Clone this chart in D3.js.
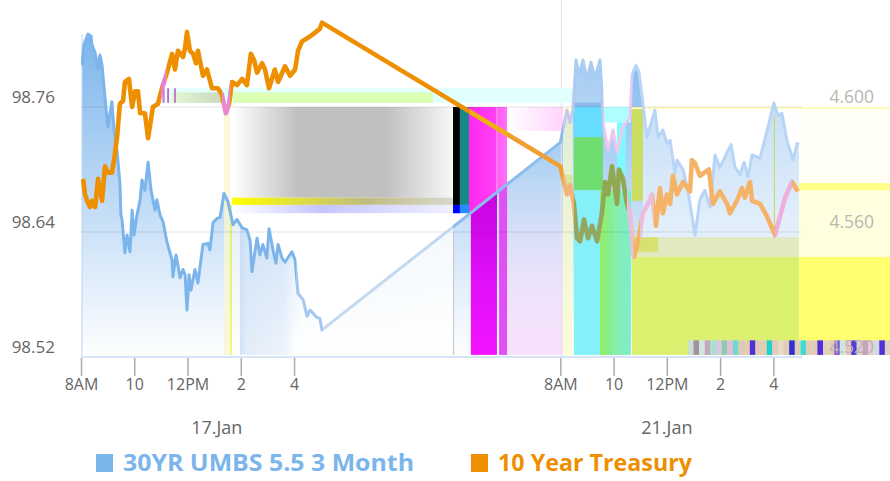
<!DOCTYPE html>
<html>
<head>
<meta charset="utf-8">
<script src="https://cdn.jsdelivr.net/npm/d3@7"></script>
<style>
html, body { margin: 0; padding: 0; background: #fff; }
text { font-family: "Open Sans", sans-serif; }
</style>
</head>
<body>
<svg width="890" height="481"></svg>
<script>
// hours since 8AM on 17.Jan, the 21.Jan session starts at 18
var umbsTimes = [0.04,0.11,0.26,0.38,0.41,0.53,0.64,0.71,0.79,0.90,1.01,1.16,1.24,1.35,1.46,1.50,1.54,1.65,1.73,1.84,1.92,1.99,2.10,2.22,2.29,2.40,2.52,2.63,2.78,2.85,2.97,3.08,3.23,3.42,3.45,3.57,3.72,3.83,3.91,3.98,4.06,4.13,4.28,4.39,4.58,4.77,4.84,4.96,5.11,5.22,5.37,5.52,5.63,5.71,5.86,6.05,6.23,6.35,6.42,6.61,6.72,6.83,6.98,7.06,7.21,7.32,7.40,7.55,7.66,7.92,8.04,8.15,8.34,8.49,8.60,8.86,8.97,9.05,
	18.00,18.25,18.36,18.47,18.59,18.70,18.85,19.00,19.15,19.30,19.49,19.56,19.60,19.79,19.98,20.13,20.35,20.62,20.69,20.84,20.95,21.07,21.25,21.55,21.67,21.85,22.00,22.12,22.30,22.38,22.61,22.79,23.06,23.24,23.43,23.62,23.81,23.99,24.22,24.41,24.56,24.75,24.90,25.05,25.20,25.50,25.80,26.02,26.17,26.32,26.51,26.74,26.89,26.96];
var umbsValues = [98.800,98.820,98.830,98.828,98.820,98.812,98.796,98.810,98.800,98.769,98.741,98.765,98.738,98.719,98.687,98.656,98.652,98.620,98.637,98.621,98.661,98.637,98.656,98.671,98.690,98.680,98.707,98.680,98.661,98.671,98.656,98.650,98.630,98.613,98.597,98.618,98.596,98.604,98.599,98.565,98.599,98.584,98.604,98.591,98.628,98.629,98.623,98.649,98.653,98.654,98.677,98.669,98.656,98.647,98.652,98.644,98.642,98.632,98.602,98.634,98.618,98.628,98.615,98.643,98.623,98.610,98.628,98.615,98.611,98.621,98.613,98.581,98.575,98.559,98.565,98.558,98.557,98.546,
	98.726,98.757,98.745,98.757,98.805,98.791,98.805,98.786,98.803,98.788,98.805,98.776,98.745,98.719,98.738,98.716,98.741,98.750,98.791,98.800,98.794,98.770,98.731,98.757,98.731,98.738,98.725,98.728,98.697,98.709,98.700,98.680,98.637,98.671,98.680,98.664,98.714,98.702,98.714,98.724,98.702,98.695,98.707,98.693,98.714,98.711,98.741,98.764,98.752,98.754,98.728,98.709,98.725,98.724];
var treasuryTimes = [0.08,0.15,0.23,0.34,0.41,0.53,0.64,0.79,0.90,1.01,1.16,1.24,1.35,1.46,1.58,1.65,1.80,1.92,2.03,2.14,2.22,2.40,2.52,2.70,2.89,3.04,3.23,3.42,3.53,3.64,3.83,3.91,3.98,4.09,4.21,4.32,4.39,4.58,4.73,4.92,5.14,5.29,5.44,5.56,5.67,5.86,6.05,6.23,6.38,6.50,6.61,6.80,6.91,7.06,7.28,7.40,7.66,7.85,8.04,8.15,8.30,8.49,8.67,8.97,9.05,
	18.00,18.25,18.36,18.51,18.63,18.74,18.89,19.04,19.19,19.38,19.56,19.68,19.79,19.94,20.13,20.20,20.35,20.50,20.62,20.76,20.92,21.10,21.29,21.44,21.59,21.74,21.85,22.00,22.12,22.23,22.38,22.61,22.87,22.94,23.06,23.24,23.58,23.73,23.99,24.26,24.37,24.63,24.82,24.93,25.12,25.20,25.50,25.76,26.06,26.25,26.44,26.70,26.92];
var treasuryValues = [4.577,4.572,4.570,4.568,4.570,4.568,4.577,4.570,4.581,4.579,4.579,4.583,4.590,4.601,4.602,4.608,4.609,4.600,4.605,4.605,4.598,4.598,4.590,4.600,4.601,4.606,4.611,4.617,4.612,4.618,4.616,4.619,4.624,4.618,4.617,4.614,4.618,4.610,4.612,4.606,4.606,4.604,4.598,4.601,4.608,4.607,4.609,4.607,4.617,4.615,4.611,4.614,4.612,4.606,4.612,4.608,4.613,4.610,4.612,4.618,4.621,4.622,4.623,4.625,4.627,
	4.581,4.572,4.575,4.569,4.558,4.557,4.564,4.558,4.562,4.557,4.566,4.576,4.572,4.581,4.569,4.580,4.577,4.569,4.566,4.552,4.557,4.566,4.569,4.572,4.562,4.574,4.566,4.572,4.569,4.578,4.572,4.576,4.573,4.583,4.582,4.578,4.580,4.569,4.573,4.569,4.566,4.570,4.574,4.571,4.576,4.570,4.569,4.565,4.559,4.565,4.571,4.576,4.573];
var hourTicks = [0,2,4,6,8,18,20,22,24,26];
var hourLabels = ["8AM","10","12PM","2","4","8AM","10","12PM","2","4"];
var dayTicks = [5.1,22];
var dayLabels = ["17.Jan","21.Jan"];
var leftTicks = [98.52,98.64,98.76];
var rightTicks = [4.52,4.56,4.60];
var seriesNames = ["30YR UMBS 5.5 3 Month","10 Year Treasury"];
var seriesColors = ["#7cb5ec","#ee8f00"];

var umbs = umbsTimes.map(function(t,i){ return {t:t, v:umbsValues[i]}; });
var treasury = treasuryTimes.map(function(t,i){ return {t:t, v:treasuryValues[i]}; });

var svg = d3.select("svg");
var defs = svg.append("defs");

var x = d3.scaleLinear().domain([0,27]).range([81,800]);
var y = d3.scaleLinear().domain([98.52,98.76]).range([357,107]);
var y2 = d3.scaleLinear().domain([4.52,4.60]).range([357,107]);

function gradient(id, stops, vertical) {
	var g = defs.append("linearGradient").attr("id",id)
		.attr("x1",0).attr("y1",0).attr("x2",vertical?0:1).attr("y2",vertical?1:0);
	stops.forEach(function(s){
		g.append("stop").attr("offset",s[0]).attr("stop-color",s[1])
			.attr("stop-opacity",s[2]===undefined?1:s[2]);
	});
	return "url(#"+id+")";
}
// rectangle given in hours and left axis prices
function band(t0,t1,p0,p1,fill,op,clip) {
	return svg.append("rect")
		.attr("x",x(t0)).attr("width",x(t1)-x(t0))
		.attr("y",y(p1)).attr("height",y(p0)-y(p1))
		.attr("fill",fill).attr("opacity",op===undefined?1:op)
		.attr("clip-path",clip?"url(#"+clip+")":null);
}

//area
var areaFill = gradient("areaFill",[[0,"#7cb5ec"],[1,"#ffffff"]],true);
var area = d3.area().x(function(d){return x(d.t);}).y0(y(98.52)).y1(function(d){return y(d.v);});
defs.append("clipPath").attr("id","underArea").append("path").datum(umbs).attr("d",area);

//magenta block sits behind the area, its lower edge follows the diagonal
band(14.57,16.00,98.658,98.760,gradient("g5",[[0,"#ff28f0"],[0.7,"#ff40f4"],[0.72,"#ff80f0"],[0.78,"#ff60f0"],[1,"#ff70ff"]]));
svg.append("path").datum(umbs).attr("fill",areaFill).attr("d",area);

//left axis line
svg.append("line").attr("x1",x(0)+1).attr("x2",x(0)+1).attr("y1",34).attr("y2",357).attr("stroke","#b8d4f2").attr("stroke-width",1);
//crosshair
svg.append("line").attr("x1",x(18)+1).attr("x2",x(18)+1).attr("y1",0).attr("y2",357).attr("stroke","#e4e4e4").attr("stroke-width",1);

//overlays, first session
band(2.97,13.22,98.764,98.778,"#e2ffff");
band(3.40,5.37,98.764,98.774,gradient("g1",[[0,"#e4f8d4"],[1,"#c8d8c0"]]));
band(5.37,5.70,98.764,98.778,"#e0ffff");
band(5.70,13.22,98.764,98.774,"#dcffb4");
band(3.06,3.14,98.764,98.778,"#e070d0");
band(3.24,3.30,98.764,98.778,"#c050c0");
band(3.50,3.56,98.764,98.778,"#c060c0");
band(13.22,18.51,98.764,98.778,"#e0ffff");
band(5.37,5.60,98.522,98.760,"#f8f8d0",0.8);
band(5.60,5.67,98.522,98.666,"#f2f24a",0.8);
band(5.67,13.97,98.673,98.760,gradient("g2",[[0,"#ffffff"],[0.3,"#c0c0c0"],[0.7,"#c0c0c0"],[1,"#f8f8f8"]]));
band(5.67,13.97,98.666,98.673,gradient("g3",[[0,"#ffff00"],[0.6,"#c0bc80"],[1,"#d8d8d0"]]));
band(5.67,13.97,98.658,98.666,gradient("g4",[[0,"#ffffff"],[0.4,"#c5c5ff"],[1,"#f0f0ff"]]));
band(5.67,5.97,98.522,98.658,"#ffffff",0.55);
band(5.97,8.07,98.522,98.650,gradient("g10",[[0,"#c8dcf4",0.8],[0.12,"#d4e4f6",0.65],[0.8,"#dce8f8",0.5],[1,"#dce8f8",0]]),1,"underArea");
band(7.6,13.97,98.522,98.658,gradient("g8",[[0,"#ffffff",0],[0.12,"#ffffff",0.7],[1,"#ffffff",0.8]]));
band(13.97,14.01,98.522,98.640,"#c8c8c8");
band(13.97,14.23,98.666,98.760,"#000000");
band(14.23,14.57,98.666,98.760,"#158888");
band(13.97,14.23,98.658,98.666,"#0000ff");
band(14.23,14.57,98.658,98.666,"#1e90ff");
band(16.00,18.10,98.737,98.760,gradient("g6",[[0,"#ffffff"],[1,"#ffd4ff"]]));
band(14.64,15.62,98.522,98.700,gradient("g7",[[0,"#c000d8"],[0.6,"#e010f8"],[1,"#f414ff"]],true),1,"underArea");
band(15.70,16.00,98.522,98.700,"#e050f4",1,"underArea");
band(16.00,18.10,98.522,98.700,gradient("g9",[[0,"#f4d4fa",0],[1,"#f6d8fb",0.8]],true),1,"underArea");

//overlays, second session
band(18.10,18.47,98.522,98.760,"#fdfdc8",0.7);
band(18.10,18.47,98.680,98.695,"#c8d870",0.5);
band(18.51,19.60,98.731,98.760,"#66ddff");
band(18.51,19.60,98.680,98.731,"#70dd70");
band(18.51,19.60,98.522,98.680,"#84f0fa");
band(18.51,19.60,98.764,98.800,"#ffffff",0.25);
band(18.51,19.60,98.760,98.764,"#8ab8ec");
band(19.60,20.65,98.745,98.760,"#b0ffff");
band(20.13,20.46,98.695,98.745,"#80f8ff");
band(19.49,19.75,98.522,98.680,"#90ee70");
band(19.75,19.98,98.522,98.680,"#84ee90");
band(19.98,20.24,98.522,98.680,"#88eeb0");
band(20.24,20.65,98.522,98.680,"#80eec0");
band(20.69,26.96,98.522,98.616,"#dcf070");
band(20.69,21.10,98.670,98.760,"#cadd60");
band(21.10,26.96,98.635,98.760,"#ffffff",0.45);
band(20.69,26.96,98.616,98.635,"#e2e8c0");
band(20.69,21.67,98.621,98.635,"#d8e070");
band(26.96,30.4,98.522,98.616,"#ffff70");
band(26.96,30.4,98.616,98.680,"#ffffe0");
band(26.96,30.4,98.680,98.687,"#ffff88");
band(26.96,30.4,98.687,98.760,"#fffff6");
band(20.69,30.4,98.758,98.760,"#fdfdc0");

//stripes along the bottom
var stripeColors = ["#c8e0d4","#a090a8","#d0e8e0","#c0a8c0","#a8e0d0","#d8c8e8","#90c8b8","#e0c0d8","#70d8d0","#e0c8b8","#e0ccb8","#5030d8","#e0ccb8","#e0ccb8","#20d0d0","#e0ccb8","#e8d8c8","#e0ccb8","#3030d0","#e0ccb8","#40d8d8","#e0ccb8","#e0ccb8","#5030d8","#e4d0c0","#e0ccb8","#8858d8","#c8e8e0","#f0c0c8","#5040d8","#e0d0d8","#c8a0c0","#e8c8e0","#d0d8e8","#5030d8","#e0d0c0"];
var stripeX = d3.scaleBand().domain(d3.range(stripeColors.length)).range([x(22.79),x(30.4)]);
svg.selectAll("rect.stripe").data(stripeColors).enter().append("rect")
	.attr("x",function(d,i){return stripeX(i);}).attr("width",stripeX.bandwidth())
	.attr("y",y(98.536)).attr("height",y(98.522)-y(98.536)).attr("fill",function(d){return d;});

band(26.02,26.06,98.634,98.752,"#c8d860");

//grid, faint over everything
svg.selectAll("line.grid").data(leftTicks.slice(1)).enter().append("line")
	.attr("x1",x(0)).attr("x2",x(27)+2).attr("y1",function(d){return y(d);}).attr("y2",function(d){return y(d);})
	.attr("stroke","#000000").attr("stroke-opacity",0.07).attr("stroke-width",1.5);
svg.append("line").attr("x1",x(0)).attr("x2",x(27)+2).attr("y1",357).attr("y2",357).attr("stroke","#c8dcf2").attr("stroke-width",1.5);

//lines, redrawn through clips where the picture tints them
function drawLine(data, yScale, color, width, pieces) {
	var line = d3.line().x(function(d){return x(d.t);}).y(function(d){return yScale(d.v);});
	pieces.forEach(function(p,i){
		var id = "clip"+color.slice(1)+i;
		defs.append("clipPath").attr("id",id).append("rect")
			.attr("x",x(p[0])).attr("width",x(p[1])-x(p[0])).attr("y",0).attr("height",481);
		svg.append("path").datum(data)
			.attr("fill","none").attr("stroke",p[2]).attr("stroke-width",width)
			.attr("stroke-linejoin","round").attr("clip-path","url(#"+id+")").attr("d",line);
	});
}
drawLine(umbs,y,"#7cb5ec",3,[
	[0,8.1,"#7cb5ec"],[8.1,9.1,"#a4c8f0"],[9.1,13.97,"#c4d8f0"],[13.97,18.1,"#8cbcee"],
	[18.1,18.51,"#c4c8f0"],[18.51,19.6,"#a8ccf2"],[19.6,20.69,"#ecc8ec"],[20.69,27.1,"#b8d4f6"]
]);
drawLine(treasury,y2,"#ee8f00",4.6,[
	[0,3.0,"#ee8f00"],[3.0,3.2,"#e880d0"],[3.2,5.3,"#ee8f00"],[5.3,5.6,"#e888d0"],[5.6,14.6,"#ee8f00"],
	[14.6,16.0,"#f0b010"],[16.0,18.1,"#f0a030"],[18.1,18.51,"#f2b47a"],[18.51,19.6,"#92a860"],
	[19.6,20.5,"#90a850"],[20.5,20.75,"#eebbdd"],[20.75,21.0,"#f4b366"],[21.0,21.5,"#eebbdd"],
	[21.5,26.06,"#f4b366"],[26.06,26.7,"#eeaedd"],[26.7,27.1,"#f4b366"]
]);

//x axis
var xAxis = d3.axisBottom(x).tickValues(hourTicks)
	.tickFormat(function(d,i){return hourLabels[i];}).tickSize(18).tickPadding(3);
var gx = svg.append("g").attr("transform","translate(0,358)").call(xAxis);
gx.select(".domain").remove();
gx.selectAll("line").attr("stroke","#aaaaaa").attr("stroke-width",1.5);
gx.selectAll("text").attr("font-size",16).attr("fill","#666666").style("font-family","'Open Sans'");

svg.selectAll("text.day").data(dayLabels).enter().append("text")
	.attr("x",function(d,i){return x(dayTicks[i]);}).attr("y",434)
	.attr("text-anchor","middle").attr("font-size",18).attr("fill","#666666").text(function(d){return d;});

//y axes, labels sit above their grid lines
svg.selectAll("text.left").data(leftTicks).enter().append("text")
	.attr("x",55).attr("y",function(d){return y(d)-4;}).attr("text-anchor","end")
	.attr("font-size",17).attr("fill","#666666").text(function(d){return d3.format(".2f")(d);});
svg.selectAll("text.right").data(rightTicks).enter().append("text")
	.attr("x",874).attr("y",function(d){return y2(d)-4;}).attr("text-anchor","end")
	.attr("font-size",17.5).attr("fill","#b8b8b0").text(function(d){return d3.format(".3f")(d);});

//legend
var legendX = [96,471];
var legendWidths = [291,194];
var legend = svg.selectAll("g.legend").data(seriesNames).enter().append("g")
	.attr("transform",function(d,i){return "translate("+legendX[i]+",454)";});
legend.append("rect").attr("width",17).attr("height",18).attr("fill",function(d,i){return seriesColors[i];});
legend.append("text").attr("x",27).attr("y",17).attr("font-size",24).attr("font-weight",700)
	.attr("textLength",function(d,i){return legendWidths[i];}).attr("lengthAdjust","spacingAndGlyphs")
	.attr("fill",function(d,i){return seriesColors[i];}).text(function(d){return d;});
</script>
</body>
</html>
